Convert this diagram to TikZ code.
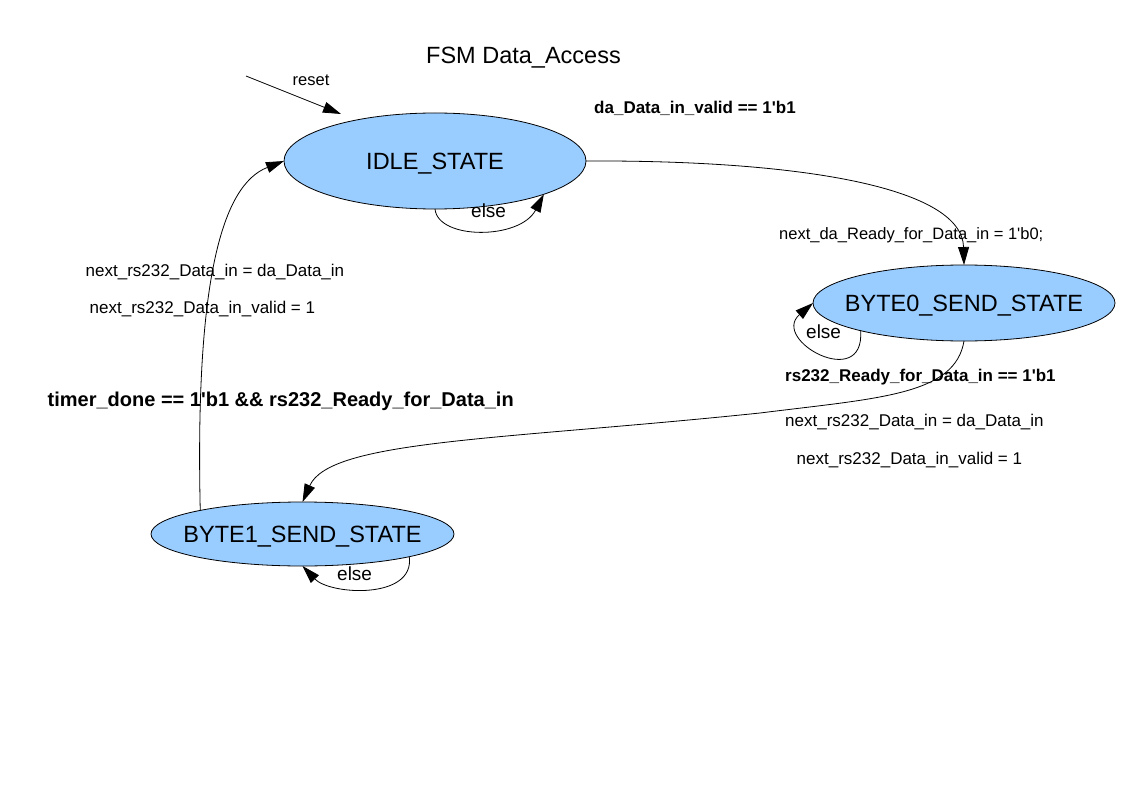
\documentclass[tikz,border=0pt]{standalone}
\usepackage{fontspec}
\setmainfont{Liberation Sans}
\usetikzlibrary{shapes.geometric,arrows.meta}
\definecolor{statefill}{HTML}{99CCFF}
\newcommand{\sq}{\textquotesingle}
\begin{document}
\begin{tikzpicture}[x=1pt,y=-1pt,
  state/.style={ellipse, draw=black, line width=0.8pt, fill=statefill, inner sep=0pt, outer sep=0pt,
    text height=17pt, text depth=0pt, font=\fontsize{23.5}{28}\selectfont},
  lbl/.style={anchor=base west, inner sep=0pt, font=\fontsize{17}{20}\selectfont},
  blbl/.style={anchor=base west, inner sep=0pt, font=\fontsize{17}{20}\selectfont\bfseries},
  smlbl/.style={anchor=base west, inner sep=0pt, font=\fontsize{16.5}{20}\selectfont},
  elbl/.style={anchor=base west, inner sep=0pt, font=\fontsize{19}{22}\selectfont},
  conn/.style={draw, line width=0.8pt, -{Triangle[length=18pt,width=11pt]}}]
\useasboundingbox[fill=white] (0,0) rectangle (1123,794);

\node[anchor=base west, inner sep=0pt, font=\fontsize{23.5}{28}\selectfont] (title) at (426,64) {FSM Data\_Access};

\node[state, minimum width=302pt, minimum height=96pt] (idle) at (435,161) {\makebox[0pt]{IDLE\_STATE}};
\node[state, minimum width=302pt, minimum height=76pt] (b0) at (964,303) {\makebox[0pt]{BYTE0\_SEND\_STATE}};
\node[state, minimum width=303pt, minimum height=64pt] (b1) at (302.5,534) {\makebox[0pt]{BYTE1\_SEND\_STATE}};

% reset
\coordinate (rs0) at (246,76);
\coordinate (rs1) at (341,114);
\draw[conn] (rs0) -- (rs1);
\node[smlbl] (lreset) at (292.5,86) {reset};

% IDLE -> BYTE0
\draw[conn] (idle.east) .. controls (790,160) and (962,185) .. (b0.north);
\node[blbl] (l1) at (594,114) {da\_Data\_in\_valid == 1\sq b1};
\node[smlbl] (l2) at (779,239.5) {next\_da\_Ready\_for\_Data\_in = 1\sq b0;};

% IDLE self loop
\draw[conn] (idle.south) .. controls (438,240) and (520,240) .. (idle.-17);
\node[elbl] (le1) at (471,218) {else};

% BYTE0 self loop
\draw[conn] (b0.-165) .. controls (865,392) and (770,340) .. (b0.west);
\node[elbl] (le2) at (806,338) {else};

% BYTE0 -> BYTE1
\draw[conn] (b0.south) .. controls (955,395) and (880,398) .. (760,413) .. controls (500,440) and (330,440) .. (b1.north);
\node[blbl] (l3) at (785,381) {rs232\_Ready\_for\_Data\_in == 1\sq b1};
\node[lbl] (l4) at (785,426) {next\_rs232\_Data\_in = da\_Data\_in};
\node[lbl] (l5) at (796.5,464) {next\_rs232\_Data\_in\_valid = 1};

% BYTE1 self loop
\draw[conn] (b1.-12.7) .. controls (415,600) and (330,595) .. (b1.south);
\node[elbl] (le3) at (337,580) {else};

% BYTE1 -> IDLE
\draw[conn] (b1.167.7) .. controls (195,280) and (222,185) .. (idle.west);
\node[lbl] (l6) at (85.5,276) {next\_rs232\_Data\_in = da\_Data\_in};
\node[lbl] (l7) at (89.5,313) {next\_rs232\_Data\_in\_valid = 1};
\node[anchor=base west, inner sep=0pt, font=\fontsize{20}{24}\selectfont\bfseries] (l8) at (47.5,406) {timer\_done == 1\sq b1 \&\& rs232\_Ready\_for\_Data\_in};
\end{tikzpicture}
\end{document}
